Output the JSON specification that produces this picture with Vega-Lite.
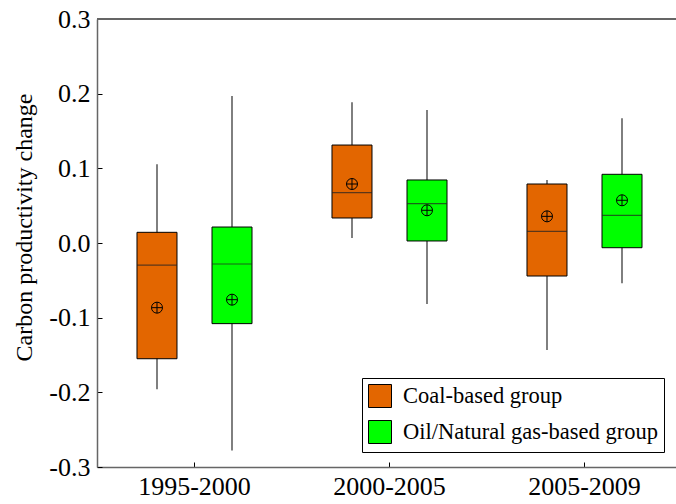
{
  "$schema": "https://vega.github.io/schema/vega-lite/v6.json",
  "width": 579,
  "height": 448,
  "autosize": {"type": "none"},
  "padding": {"left": 97, "top": 19, "right": 0, "bottom": 37},
  "background": "white",
  "config": {
    "font": "Liberation Serif",
    "view": {"stroke": null},
    "axis": {"labelColor": "black", "titleColor": "black", "titleFontWeight": "normal", "grid": false}
  },
  "data": {
    "values": [
      {"period": "1995-2000", "group": "Coal-based group", "lower": -0.196, "q1": -0.155, "median": -0.0295, "q3": 0.0143, "upper": 0.1054, "mean": -0.0866},
      {"period": "1995-2000", "group": "Oil/Natural gas-based group", "lower": -0.278, "q1": -0.108, "median": -0.0281, "q3": 0.0214, "upper": 0.1969, "mean": -0.0759},
      {"period": "2000-2005", "group": "Coal-based group", "lower": 0.0067, "q1": 0.0335, "median": 0.0674, "q3": 0.1312, "upper": 0.1884, "mean": 0.079},
      {"period": "2000-2005", "group": "Oil/Natural gas-based group", "lower": -0.0817, "q1": 0.0027, "median": 0.0527, "q3": 0.0844, "upper": 0.178, "mean": 0.0438},
      {"period": "2005-2009", "group": "Coal-based group", "lower": -0.1433, "q1": -0.0442, "median": 0.0157, "q3": 0.079, "upper": 0.0844, "mean": 0.0357},
      {"period": "2005-2009", "group": "Oil/Natural gas-based group", "lower": -0.054, "q1": -0.0063, "median": 0.0371, "q3": 0.092, "upper": 0.167, "mean": 0.0572}
    ]
  },
  "layer": [
    {
      "mark": {"type": "rule", "color": "#2a2a2a", "strokeWidth": 1.2},
      "encoding": {
        "x": {
          "field": "period", "type": "nominal",
          "scale": {"range": [0, 585], "paddingInner": 0, "paddingOuter": 0},
          "axis": {"title": null, "labelAngle": 0, "labelFontSize": 26, "labelPadding": 11, "tickSize": -5, "tickColor": "black", "domainColor": "#666", "domainWidth": 1.5}
        },
        "xOffset": {
          "field": "group", "type": "nominal",
          "scale": {"paddingInner": 0.4667, "paddingOuter": 0.5333}
        },
        "y": {
          "field": "lower", "type": "quantitative",
          "scale": {"domain": [-0.3, 0.3], "nice": false, "zero": false},
          "axis": {
            "title": "Carbon productivity change", "titleFontSize": 24, "titlePadding": 12, "titleY": 208,
            "values": [-0.3, -0.2, -0.1, 0, 0.1, 0.2, 0.3],
            "labelExpr": "replace(format(datum.value, '.1f'), '\u2212', '-')",
            "labelFontSize": 26, "labelPadding": 12, "tickSize": -5, "tickColor": "black",
            "domainColor": "#666", "domainWidth": 1.5
          }
        },
        "y2": {"field": "upper"}
      }
    },
    {
      "mark": {"type": "bar", "stroke": "black", "strokeWidth": 1},
      "encoding": {
        "x": {"field": "period", "type": "nominal"},
        "xOffset": {"field": "group", "type": "nominal"},
        "y": {"field": "q1", "type": "quantitative"},
        "y2": {"field": "q3"},
        "color": {
          "field": "group", "type": "nominal",
          "scale": {"domain": ["Coal-based group", "Oil/Natural gas-based group"], "range": ["#E36600", "#00FF00"]},
          "legend": {
            "title": null, "orient": "none", "legendX": 265, "legendY": 359,
            "symbolType": "square", "symbolSize": 529, "symbolStrokeColor": "black", "symbolStrokeWidth": 1,
            "symbolOpacity": 1,
            "labelFontSize": 22.5, "labelColor": "black", "labelOffset": 11, "labelLimit": 400,
            "rowPadding": 8, "padding": 6,
            "strokeColor": "black", "fillColor": "white"
          }
        }
      }
    },
    {
      "mark": {"type": "tick", "color": "#222", "thickness": 1.2, "size": 40},
      "encoding": {
        "x": {"field": "period", "type": "nominal"},
        "xOffset": {"field": "group", "type": "nominal"},
        "y": {"field": "median", "type": "quantitative"}
      }
    },
    {
      "mark": {"type": "point", "shape": "M-1,0A1,1 0 1,1 1,0A1,1 0 1,1 -1,0ZM-1,0L1,0M0,-1L0,1", "size": 121, "stroke": "black", "strokeWidth": 1, "filled": false, "opacity": 1},
      "encoding": {
        "x": {"field": "period", "type": "nominal"},
        "xOffset": {"field": "group", "type": "nominal"},
        "y": {"field": "mean", "type": "quantitative"}
      }
    },
    {
      "mark": {"type": "rule", "color": "#666", "strokeWidth": 1.5},
      "encoding": {"y": {"datum": 0.3}}
    }
  ]
}
